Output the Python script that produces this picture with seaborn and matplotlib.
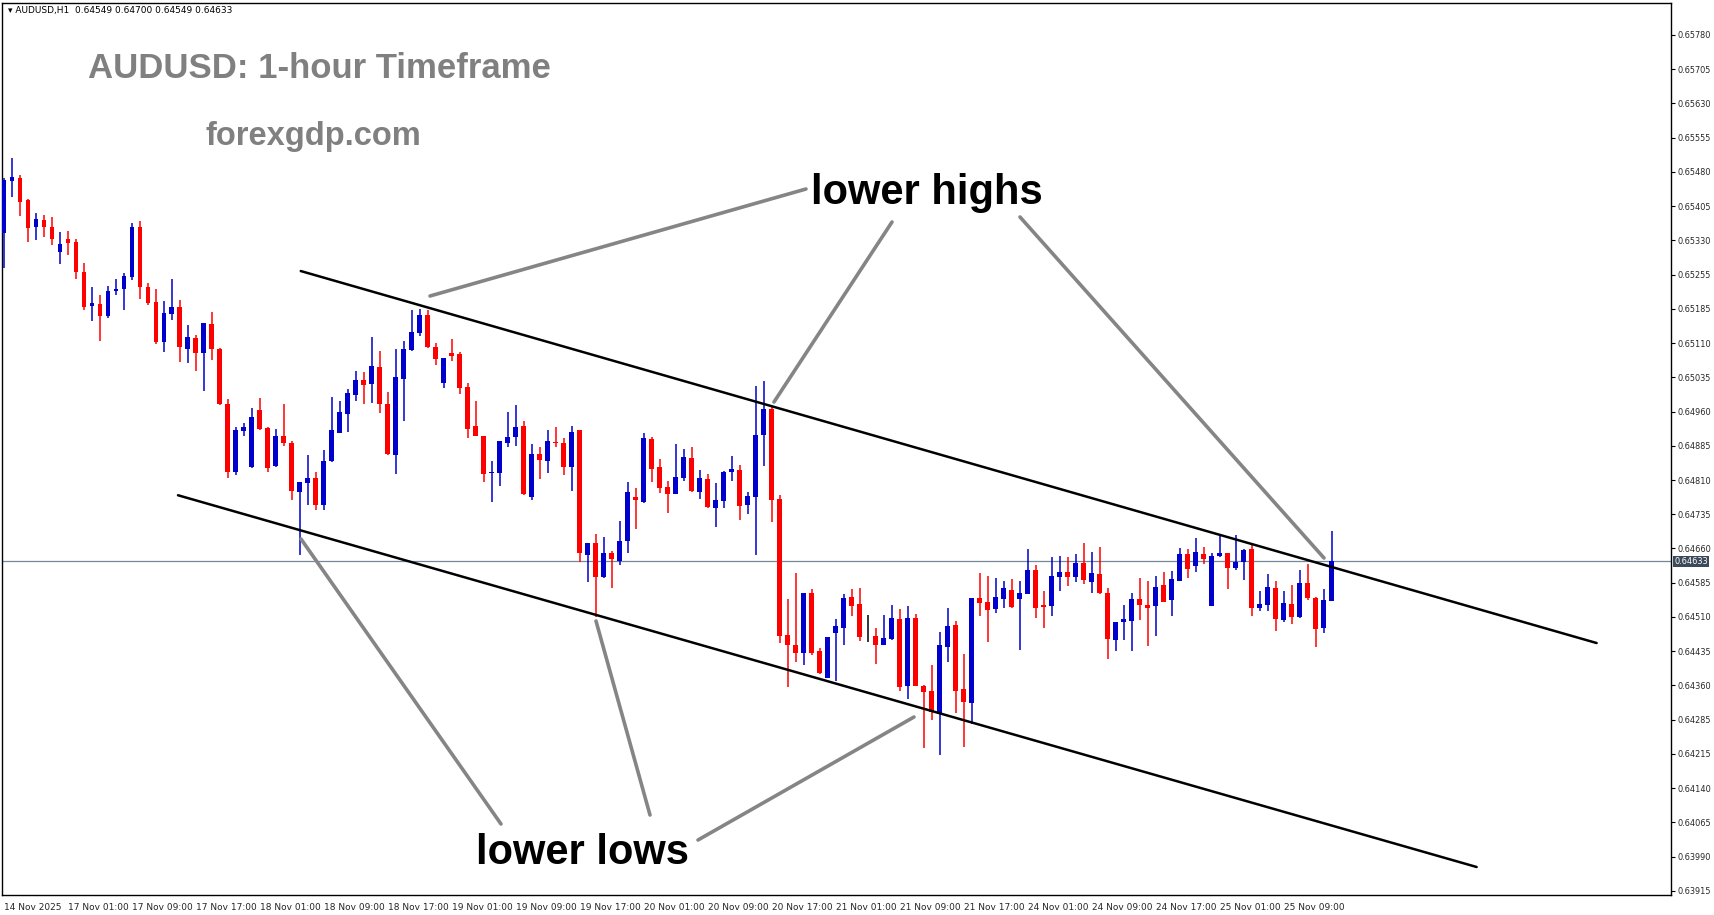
import numpy as np
import pandas as pd
import seaborn as sns
import matplotlib
matplotlib.use("Agg")
import matplotlib.pyplot as plt

# ---------------- data (AUDUSD H1) ----------------
opens = [0.65348,0.65462,0.65468,0.65420,0.65361,0.65377,0.65361,0.65307,0.65335,0.65329,
0.65263,0.65189,0.65194,0.65167,0.65222,0.65226,0.65252,0.65361,0.65231,0.65198,
0.65111,0.65172,0.65187,0.65096,0.65120,0.65087,0.65150,0.65096,0.64976,0.64828,
0.64917,0.64838,0.64963,0.64923,0.64841,0.64906,0.64891,0.64784,0.64804,0.64814,
0.64756,0.64852,0.64913,0.64954,0.64995,0.65028,0.65019,0.65056,0.64976,0.64865,
0.65030,0.65093,0.65130,0.65170,0.65100,0.65021,0.65087,0.65085,0.65013,0.64928,
0.64906,0.64825,0.64825,0.64891,0.64904,0.64928,0.64773,0.64867,0.64852,0.64893,
0.64891,0.64838,0.64919,0.64647,0.64673,0.64599,0.64651,0.64634,0.64677,0.64773,
0.64762,0.64899,0.64838,0.64795,0.64780,0.64814,0.64858,0.64784,0.64812,0.64749,
0.64764,0.64828,0.64832,0.64756,0.64773,0.64908,0.64965,0.64769,0.64472,0.64451,
0.64433,0.64564,0.64437,0.64379,0.64477,0.64488,0.64555,0.64540,0.64470,0.64470,
0.64451,0.64464,0.64507,0.64361,0.64509,0.64361,0.64350,0.64302,0.64446,0.64494,
0.64355,0.64324,0.64553,0.64544,0.64529,0.64551,0.64570,0.64551,0.64562,0.64614,
0.64538,0.64536,0.64599,0.64610,0.64599,0.64629,0.64588,0.64605,0.64564,0.64461,
0.64501,0.64503,0.64551,0.64538,0.64536,0.64581,0.64549,0.64590,0.64649,0.64623,
0.64649,0.64536,0.64645,0.64651,0.64618,0.64632,0.64660,0.64531,0.64538,0.64575,
0.64505,0.64540,0.64512,0.64586,0.64553,0.64488,0.64547]
highs = [0.65468,0.65512,0.65475,0.65422,0.65392,0.65388,0.65383,0.65350,0.65353,0.65335,
0.65283,0.65231,0.65213,0.65233,0.65248,0.65261,0.65370,0.65374,0.65239,0.65226,
0.65200,0.65248,0.65202,0.65148,0.65126,0.65152,0.65176,0.65098,0.64987,0.64926,
0.64934,0.64967,0.64989,0.64926,0.64921,0.64976,0.64895,0.64806,0.64865,0.64828,
0.64875,0.64991,0.64982,0.65008,0.65048,0.65045,0.65122,0.65091,0.65002,0.65096,
0.65113,0.65181,0.65183,0.65181,0.65109,0.65076,0.65117,0.65089,0.65022,0.64982,
0.64906,0.64852,0.64895,0.64958,0.64974,0.64939,0.64889,0.64882,0.64919,0.64926,
0.64902,0.64928,0.64919,0.64673,0.64693,0.64686,0.64655,0.64721,0.64806,0.64793,
0.64912,0.64904,0.64856,0.64808,0.64889,0.64878,0.64882,0.64832,0.64823,0.64804,
0.64830,0.64862,0.64843,0.64784,0.65015,0.65026,0.64969,0.64777,0.64551,0.64607,
0.64564,0.64573,0.64444,0.64468,0.64507,0.64562,0.64573,0.64575,0.64516,0.64488,
0.64516,0.64538,0.64529,0.64536,0.64518,0.64363,0.64407,0.64479,0.64531,0.64503,
0.64431,0.64553,0.64607,0.64601,0.64597,0.64590,0.64594,0.64590,0.64660,0.64625,
0.64568,0.64642,0.64645,0.64642,0.64649,0.64673,0.64653,0.64664,0.64575,0.64501,
0.64538,0.64564,0.64597,0.64590,0.64601,0.64610,0.64612,0.64662,0.64660,0.64684,
0.64664,0.64651,0.64688,0.64651,0.64690,0.64660,0.64669,0.64568,0.64605,0.64590,
0.64568,0.64581,0.64614,0.64627,0.64555,0.64573,0.64699]
lows = [0.65272,0.65427,0.65385,0.65329,0.65333,0.65340,0.65322,0.65281,0.65300,0.65248,
0.65181,0.65157,0.65113,0.65163,0.65213,0.65181,0.65246,0.65204,0.65191,0.65106,
0.65089,0.65159,0.65067,0.65065,0.65048,0.65004,0.65072,0.64974,0.64814,0.64821,
0.64906,0.64836,0.64919,0.64828,0.64838,0.64884,0.64767,0.64647,0.64756,0.64745,
0.64745,0.64849,0.64915,0.64915,0.64982,0.64976,0.64978,0.64956,0.64865,0.64823,
0.64939,0.65091,0.65124,0.65098,0.65061,0.65011,0.65069,0.64998,0.64902,0.64906,
0.64806,0.64762,0.64797,0.64882,0.64884,0.64777,0.64767,0.64812,0.64825,0.64882,
0.64821,0.64786,0.64631,0.64588,0.64512,0.64597,0.64575,0.64625,0.64651,0.64703,
0.64760,0.64806,0.64782,0.64738,0.64780,0.64808,0.64784,0.64769,0.64749,0.64708,
0.64749,0.64808,0.64723,0.64736,0.64647,0.64841,0.64719,0.64455,0.64359,0.64413,
0.64407,0.64429,0.64387,0.64379,0.64372,0.64451,0.64514,0.64459,0.64457,0.64409,
0.64451,0.64461,0.64350,0.64333,0.64361,0.64226,0.64287,0.64211,0.64413,0.64302,
0.64228,0.64278,0.64514,0.64457,0.64520,0.64531,0.64531,0.64440,0.64562,0.64509,
0.64488,0.64514,0.64568,0.64579,0.64588,0.64584,0.64564,0.64562,0.64420,0.64437,
0.64461,0.64437,0.64505,0.64448,0.64470,0.64544,0.64514,0.64590,0.64597,0.64610,
0.64627,0.64536,0.64642,0.64573,0.64614,0.64592,0.64514,0.64525,0.64525,0.64481,
0.64501,0.64497,0.64509,0.64549,0.64446,0.64477,0.64547]
closes = [0.65464,0.65470,0.65416,0.65359,0.65379,0.65361,0.65335,0.65324,0.65327,0.65263,
0.65187,0.65196,0.65167,0.65222,0.65226,0.65255,0.65361,0.65231,0.65196,0.65111,
0.65174,0.65187,0.65100,0.65122,0.65087,0.65152,0.65096,0.64976,0.64828,0.64919,
0.64926,0.64947,0.64921,0.64836,0.64906,0.64891,0.64786,0.64806,0.64814,0.64756,
0.64852,0.64919,0.64958,0.65000,0.65028,0.65017,0.65058,0.64976,0.64867,0.65035,
0.65096,0.65133,0.65170,0.65100,0.65074,0.65076,0.65080,0.65011,0.64921,0.64906,
0.64823,0.64828,0.64895,0.64904,0.64926,0.64780,0.64867,0.64854,0.64895,0.64891,
0.64838,0.64915,0.64651,0.64673,0.64599,0.64651,0.64638,0.64677,0.64784,0.64767,
0.64902,0.64834,0.64793,0.64780,0.64817,0.64860,0.64786,0.64814,0.64751,0.64767,
0.64828,0.64834,0.64753,0.64775,0.64908,0.64965,0.64767,0.64470,0.64451,0.64433,
0.64564,0.64433,0.64390,0.64468,0.64492,0.64553,0.64536,0.64468,0.64470,0.64451,
0.64466,0.64509,0.64359,0.64509,0.64361,0.64348,0.64305,0.64451,0.64492,0.64350,
0.64326,0.64553,0.64542,0.64527,0.64555,0.64575,0.64533,0.64564,0.64614,0.64531,
0.64533,0.64601,0.64610,0.64599,0.64629,0.64592,0.64607,0.64564,0.64464,0.64501,
0.64507,0.64551,0.64538,0.64531,0.64577,0.64544,0.64594,0.64649,0.64616,0.64653,
0.64638,0.64645,0.64651,0.64618,0.64632,0.64658,0.64531,0.64540,0.64577,0.64507,
0.64542,0.64512,0.64586,0.64553,0.64486,0.64549,0.64633]

x_tick_labels = ["14 Nov 2025","17 Nov 01:00","17 Nov 09:00","17 Nov 17:00","18 Nov 01:00",
"18 Nov 09:00","18 Nov 17:00","19 Nov 01:00","19 Nov 09:00","19 Nov 17:00","20 Nov 01:00",
"20 Nov 09:00","20 Nov 17:00","21 Nov 01:00","21 Nov 09:00","21 Nov 17:00","24 Nov 01:00",
"24 Nov 09:00","24 Nov 17:00","25 Nov 01:00","25 Nov 09:00"]
y_tick_labels = ["0.65780","0.65705","0.65630","0.65555","0.65480","0.65405","0.65330",
"0.65255","0.65185","0.65110","0.65035","0.64960","0.64885","0.64810","0.64735","0.64660",
"0.64585","0.64510","0.64435","0.64360","0.64285","0.64215","0.64140","0.64065","0.63990","0.63915"]
current_price = 0.64633
upper_channel = ([37.1, 199.1], [0.652655, 0.64455])
lower_channel = ([21.75, 184.1], [0.64777, 0.63967])

# ---------------- plot ----------------
sns.set_theme(style="white")
plt.rcParams['font.family'] = ['DejaVu Sans']

df = pd.DataFrame({"o": opens, "h": highs, "l": lows, "c": closes})
df["i"] = np.arange(len(df))
df["up"] = df["c"] >= df["o"]

W, H = 1714, 915
fig = plt.figure(figsize=(W/100, H/100), dpi=100)
ax = fig.add_axes([2/W, 20/H, 1669/W, 892/H])
ax.set_xlim(-0.25, 208.4)
ax.set_ylim(0.63906, 0.658495)

blue, red = "#0000CC", "#FF0000"
cols = np.where(df["up"], blue, red)
cols = np.where(df["o"] == df["c"], "black", cols)
ax.vlines(df["i"], df["l"], df["h"], colors=cols, linewidth=1.1, zorder=3)
body_lo = np.minimum(df["o"], df["c"])
body_h = np.maximum(np.abs(df["c"] - df["o"]), 0.000012)
ax.bar(df["i"], body_h, bottom=body_lo, width=0.62, color=cols, linewidth=0, zorder=4)

# channel lines
sns.lineplot(x=upper_channel[0], y=upper_channel[1], ax=ax, color="black", linewidth=1.8, zorder=5)
sns.lineplot(x=lower_channel[0], y=lower_channel[1], ax=ax, color="black", linewidth=1.8, zorder=5)

# current price line
ax.axhline(current_price, color="#778899", linewidth=0.9, zorder=2)

def fp(x, y):
    return (x / W, 1 - y / H)

grey_lines = [((430, 296), (806, 189)), ((774, 402), (892, 222)), ((1020, 217), (1324, 558)),
              ((301, 539), (501, 824)), ((596, 621), (650, 815)), ((698, 840), (914, 717))]
for (a, b) in grey_lines:
    p1, p2 = fp(*a), fp(*b)
    fig.add_artist(matplotlib.lines.Line2D([p1[0], p2[0]], [p1[1], p2[1]],
                   color="#858585", linewidth=2.6, zorder=6))

fig.text(*fp(927, 193), "lower highs", ha="center", va="center", fontsize=30,
         fontweight="bold", color="black", family="Liberation Sans")
fig.text(*fp(583, 853), "lower lows", ha="center", va="center", fontsize=30,
         fontweight="bold", color="black", family="Liberation Sans")
fig.text(*fp(88, 68), "AUDUSD: 1-hour Timeframe", ha="left", va="center", fontsize=25,
         fontweight="bold", color="#808080", family="Liberation Sans")
fig.text(*fp(205, 136), "forexgdp.com", ha="left", va="center", fontsize=23.5,
         fontweight="bold", color="#808080", family="Liberation Sans")
fig.text(*fp(8, 10), "\u25BE AUDUSD,H1  0.64549 0.64700 0.64549 0.64633", ha="left",
         va="center", fontsize=6.5, color="black")

for s in ax.spines.values():
    s.set_color("black"); s.set_linewidth(1)
ax.yaxis.tick_right()
ypos = [0.65780 - k * 0.000746 for k in range(len(y_tick_labels))]
ax.set_yticks(ypos)
ax.set_yticklabels(y_tick_labels, fontsize=5.9)
ax.tick_params(axis="y", direction="out", length=3, width=0.8, color="black", pad=2)
xpos = [8 * k for k in range(len(x_tick_labels))]
ax.set_xticks(xpos)
ax.set_xticklabels(x_tick_labels, fontsize=6.5, ha="left")
ax.tick_params(axis="x", direction="out", length=4, width=0.8, color="black", pad=2)
ax.grid(False)

ax.text(1.002, current_price, "0.64633", transform=ax.get_yaxis_transform(), ha="left",
        va="center", fontsize=5.9, color="white",
        bbox=dict(boxstyle="square,pad=0.15", fc="#3c4a5a", ec="none"))

fig.savefig("out.png", dpi=100)
